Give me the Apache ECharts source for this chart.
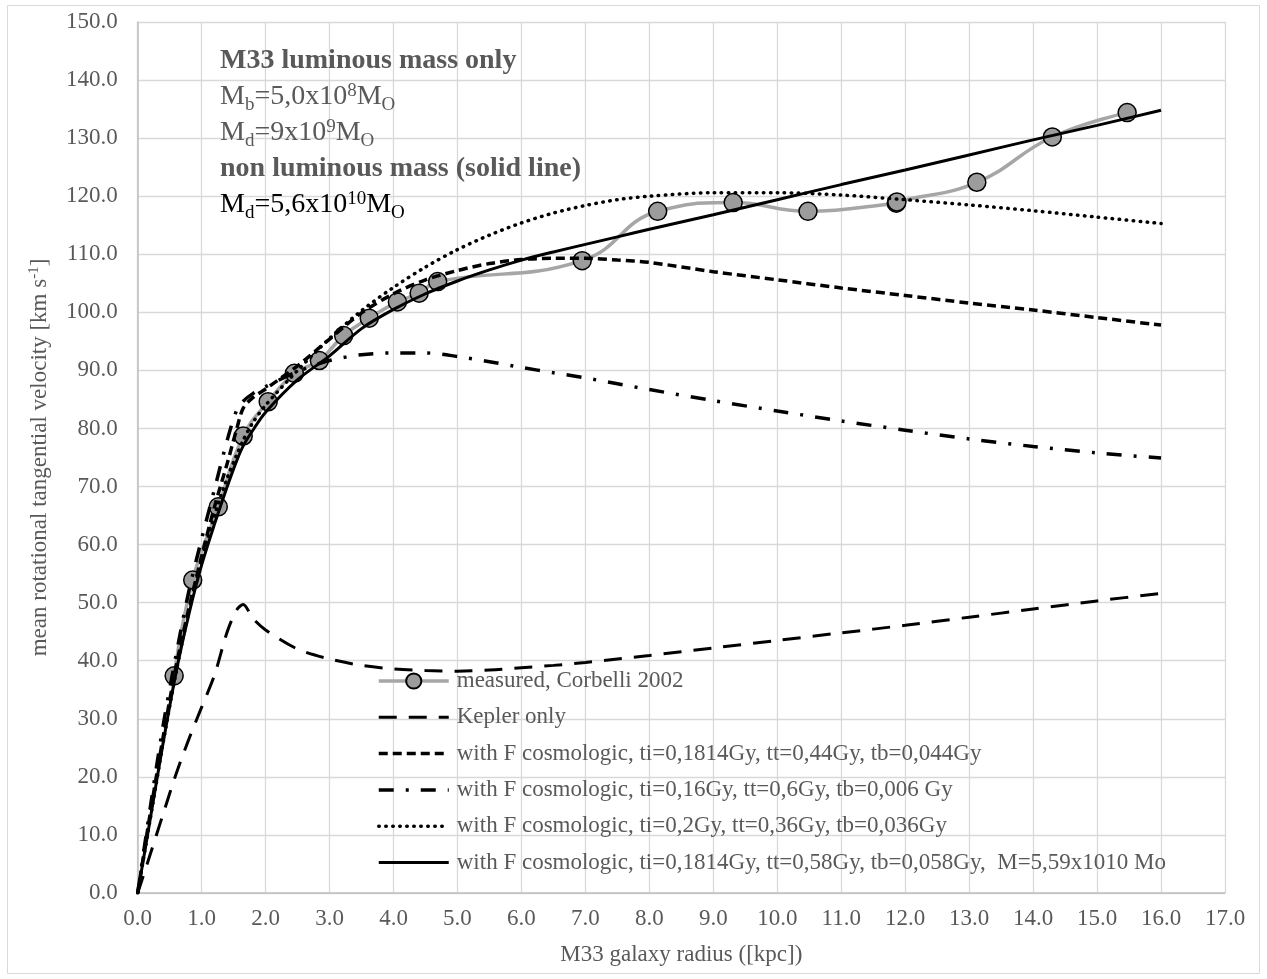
<!DOCTYPE html>
<html><head><meta charset="utf-8">
<script src="https://cdn.jsdelivr.net/npm/echarts@6/dist/echarts.min.js"></script>
<style>html,body{margin:0;padding:0;background:#fff}#c{width:1267px;height:979px}</style>
</head><body><div id="c"></div>
<script>
// ---- data ----
const measuredX = [0.57, 0.86, 1.26, 1.65, 2.04, 2.45, 2.84, 3.22, 3.62, 4.06, 4.40, 4.69, 6.95, 8.13, 9.31, 10.48, 11.86, 11.87, 13.12, 14.30, 15.47];
const measuredY = [37.4, 53.9, 66.5, 78.7, 84.6, 89.5, 91.7, 96.0, 99.0, 101.8, 103.3, 105.3, 108.9, 117.4, 118.9, 117.4, 118.8, 119.0, 122.4, 130.2, 134.4];

const modelX = [0, 0.2, 0.4, 0.6, 0.8, 1.0, 1.2, 1.4, 1.55, 1.65, 1.8, 2.0, 2.5, 3.0, 3.5, 4.0, 4.5, 5.0, 5.5, 6.0, 6.5, 7.0, 7.5, 8.0, 9.0, 10.0, 11.0, 12.0, 13.0, 14.0, 15.0, 16.0];
const keplerY = [0, 6.8, 13.7, 20.5, 26.5, 32.0, 37.5, 45.0, 48.8, 49.7, 47.3, 45.3, 42.0, 40.3, 39.2, 38.6, 38.3, 38.2, 38.4, 38.8, 39.2, 39.7, 40.3, 40.9, 42.2, 43.5, 44.8, 46.1, 47.5, 48.9, 50.3, 51.6];
const cosmoA_Y = [0, 14, 27, 39, 49, 58, 66.5, 74, 80, 83.5, 85.3, 86.8, 90.8, 95.4, 99.9, 103.2, 105.6, 107.2, 108.4, 109.1, 109.3, 109.3, 109.0, 108.6, 107.0, 105.6, 104.2, 102.9, 101.6, 100.4, 99.1, 97.8];
const cosmoB_Y = [0, 15, 29, 41, 52, 61, 69.5, 78, 83.2, 84.7, 86.0, 87.2, 89.8, 91.7, 92.7, 93.0, 93.0, 92.4, 91.5, 90.5, 89.6, 88.7, 87.7, 86.7, 84.8, 83.0, 81.3, 79.7, 78.2, 76.9, 75.8, 74.9];
const cosmoC_Y = [0, 13, 26, 38, 48.5, 57.5, 65, 71.5, 75.5, 78, 81, 84, 90, 95.5, 100.3, 104.3, 107.8, 110.8, 113.3, 115.4, 117.1, 118.4, 119.4, 120.0, 120.6, 120.6, 120.2, 119.4, 118.5, 117.5, 116.4, 115.3];
const cosmoD_Y = [0, 13, 26, 38, 48, 56.5, 63.5, 70, 74.5, 77, 79.7, 82.8, 88.4, 92.5, 97.2, 100.5, 103.2, 105.4, 107.3, 109.0, 110.4, 111.7, 113.0, 114.3, 116.8, 119.4, 122.0, 124.5, 127.1, 129.7, 132.2, 134.8];

const seriesNames = [
  'measured, Corbelli 2002',
  'Kepler only',
  'with F cosmologic, ti=0,1814Gy, tt=0,44Gy, tb=0,044Gy',
  'with F cosmologic, ti=0,16Gy, tt=0,6Gy, tb=0,006 Gy',
  'with F cosmologic, ti=0,2Gy, tt=0,36Gy, tb=0,036Gy',
  'with F cosmologic, ti=0,1814Gy, tt=0,58Gy, tb=0,058Gy,  M=5,59x1010 Mo'
];
const xTitle = 'M33 galaxy radius ([kpc])';

// ---- chart ----
const FONT = '"Liberation Serif", "Times New Roman", serif';
const GREY = '#595959';
const pair = (xs, ys) => xs.map((x, i) => [x, ys[i]]);

function modelSeries(name, ys, lineType, width, cap) {
  return {
    name, type: 'line', data: pair(modelX, ys), symbol: 'none', smooth: 0.3,
    z: 3,
    lineStyle: { color: '#000', width: width, type: lineType, cap: cap || 'butt' },
    itemStyle: { color: '#000' },
    emphasis: { disabled: true }
  };
}

const chart = echarts.init(document.getElementById('c'), null, { renderer: 'canvas' });
function lineRich(color, weight) {
  return {
    t: { fontFamily: FONT, fontSize: 28, lineHeight: 36, fill: color, fontWeight: weight },
    s: { fontFamily: FONT, fontSize: 19, fill: color, verticalAlign: 'bottom' },
    p: { fontFamily: FONT, fontSize: 19, fill: color, verticalAlign: 'top', padding: [3, 0, 0, 0] }
  };
}
const annot = [
  { text: '{t|M33 luminous mass only}', color: GREY, w: 'bold' },
  { text: '{t|M}{s|b}{t|=5,0x10}{p|8}{t|M}{s|O}', color: GREY, w: 'normal' },
  { text: '{t|M}{s|d}{t|=9x10}{p|9}{t|M}{s|O}', color: GREY, w: 'normal' },
  { text: '{t|non luminous mass (solid line)}', color: GREY, w: 'bold' },
  { text: '{t|M}{s|d}{t|=5,6x10}{p|10}{t|M}{s|O}', color: '#000', w: 'normal' }
];

const option = {
  animation: false,
  backgroundColor: '#fff',
  grid: { left: 137.7, right: 42, top: 22, bottom: 86, containLabel: false },
  xAxis: {
    type: 'value', min: 0, max: 17, interval: 1,
    name: xTitle, nameLocation: 'middle', nameGap: 50,
    nameTextStyle: { fontFamily: FONT, fontSize: 23, color: GREY },
    axisLine: { show: true, lineStyle: { color: '#bfbfbf', width: 1.5 } },
    axisTick: { show: false },
    axisLabel: { fontFamily: FONT, fontSize: 23, color: GREY, margin: 14, formatter: v => v.toFixed(1) },
    splitLine: { show: true, lineStyle: { color: '#d9d9d9', width: 1.3 } }
  },
  yAxis: {
    type: 'value', min: 0, max: 150, interval: 10,
    name: '{t|mean rotational tangential velocity [km s}{s|-1}{t|]}',
    nameLocation: 'middle', nameGap: 85, nameRotate: 90,
    nameTextStyle: {
      fontFamily: FONT, fontSize: 23, color: GREY,
      rich: {
        t: { fontFamily: FONT, fontSize: 23, color: GREY, lineHeight: 26 },
        s: { fontFamily: FONT, fontSize: 15, color: GREY, verticalAlign: 'top', lineHeight: 18 }
      }
    },
    axisLine: { show: true, lineStyle: { color: '#bfbfbf', width: 1.5 } },
    axisTick: { show: false },
    axisLabel: { fontFamily: FONT, fontSize: 23, color: GREY, margin: 20, formatter: v => v.toFixed(1) },
    splitLine: { show: true, lineStyle: { color: '#d9d9d9', width: 1.3 } }
  },
  legend: {
    orient: 'vertical', left: 377, top: 669, padding: 0,
    itemWidth: 70, itemHeight: 19, itemGap: 12.3,
    selectedMode: false,
    lineStyle: { width: 'inherit', type: 'inherit', cap: 'inherit', color: 'inherit' },
    textStyle: { fontFamily: FONT, fontSize: 23, color: GREY, lineHeight: 24, padding: [0, 0, 0, 3] },
    data: seriesNames.map((n, i) => i === 0 ? { name: n } : { name: n, itemStyle: { opacity: 0 } })
  },
  series: [
    {
      name: seriesNames[0], type: 'line', data: pair(measuredX, measuredY),
      smooth: 0.45, z: 1,
      symbol: 'circle', symbolSize: 18,
      lineStyle: { color: '#a6a6a6', width: 3.5 },
      itemStyle: { color: '#9c9c9c', borderColor: '#000', borderWidth: 1.5 },
      emphasis: { disabled: true }
    },
    modelSeries(seriesNames[1], keplerY, [18, 12], 3),
    modelSeries(seriesNames[2], cosmoA_Y, [9, 5], 3.5),
    modelSeries(seriesNames[3], cosmoB_Y, [15, 12, 3, 12], 3.5),
    modelSeries(seriesNames[4], cosmoC_Y, [0.5, 6.5], 3.5, 'round'),
    modelSeries(seriesNames[5], cosmoD_Y, 'solid', 3)
  ],
  graphic: [
    {
      type: 'rect', silent: true, z: -10,
      shape: { x: 7.5, y: 5.5, width: 1252, height: 968 },
      style: { fill: 'none', stroke: '#d9d9d9', lineWidth: 1 }
    }
  ].concat(annot.map((a, i) => ({
    type: 'text', silent: true, x: 220, y: 42.8 + i * 36, z: 10,
    style: { text: a.text, rich: lineRich(a.color, a.w), fill: a.color, font: '28px ' + FONT }
  })))
};
chart.setOption(option);
</script></body></html>
